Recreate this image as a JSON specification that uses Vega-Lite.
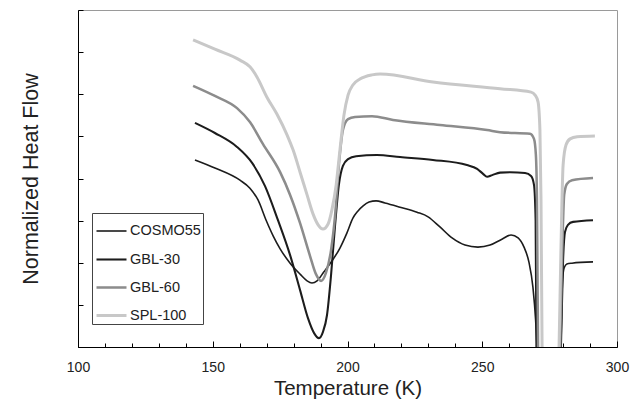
{
  "$schema": "https://vega.github.io/schema/vega-lite/v6.json",
  "autosize": {"type": "none"},
  "width": 539,
  "height": 337,
  "padding": {"left": 78, "top": 10, "right": 14, "bottom": 52},
  "background": "white",
  "config": {
    "view": {"stroke": "#9a9a9a", "strokeWidth": 1},
    "font": "Liberation Sans"
  },
  "data": {"values": [
    {"s": "COSMO55", "t": 143.4, "v": 4.44},
    {"s": "COSMO55", "t": 150.8, "v": 4.25},
    {"s": "COSMO55", "t": 160.1, "v": 3.96},
    {"s": "COSMO55", "t": 163.8, "v": 3.77},
    {"s": "COSMO55", "t": 166.8, "v": 3.49},
    {"s": "COSMO55", "t": 169.8, "v": 3.01},
    {"s": "COSMO55", "t": 172.4, "v": 2.64},
    {"s": "COSMO55", "t": 175.0, "v": 2.33},
    {"s": "COSMO55", "t": 178.7, "v": 1.99},
    {"s": "COSMO55", "t": 182.4, "v": 1.73},
    {"s": "COSMO55", "t": 185.0, "v": 1.57},
    {"s": "COSMO55", "t": 186.8, "v": 1.52},
    {"s": "COSMO55", "t": 188.7, "v": 1.57},
    {"s": "COSMO55", "t": 191.2, "v": 1.78},
    {"s": "COSMO55", "t": 194.2, "v": 2.04},
    {"s": "COSMO55", "t": 197.2, "v": 2.35},
    {"s": "COSMO55", "t": 199.8, "v": 2.71},
    {"s": "COSMO55", "t": 202.0, "v": 3.06},
    {"s": "COSMO55", "t": 203.9, "v": 3.23},
    {"s": "COSMO55", "t": 205.8, "v": 3.35},
    {"s": "COSMO55", "t": 208.0, "v": 3.44},
    {"s": "COSMO55", "t": 210.6, "v": 3.47},
    {"s": "COSMO55", "t": 213.9, "v": 3.42},
    {"s": "COSMO55", "t": 219.5, "v": 3.32},
    {"s": "COSMO55", "t": 225.8, "v": 3.20},
    {"s": "COSMO55", "t": 229.9, "v": 3.09},
    {"s": "COSMO55", "t": 234.3, "v": 2.85},
    {"s": "COSMO55", "t": 238.8, "v": 2.59},
    {"s": "COSMO55", "t": 243.6, "v": 2.42},
    {"s": "COSMO55", "t": 248.4, "v": 2.37},
    {"s": "COSMO55", "t": 252.9, "v": 2.42},
    {"s": "COSMO55", "t": 257.3, "v": 2.56},
    {"s": "COSMO55", "t": 260.7, "v": 2.66},
    {"s": "COSMO55", "t": 263.3, "v": 2.59},
    {"s": "COSMO55", "t": 265.5, "v": 2.37},
    {"s": "COSMO55", "t": 267.3, "v": 2.02},
    {"s": "COSMO55", "t": 268.8, "v": 1.42},
    {"s": "COSMO55", "t": 269.8, "v": 0.64},
    {"s": "COSMO55", "t": 270.3, "v": 0},
    {"s": "COSMO55", "t": 270.7, "v": -1},
    {"s": "COSMO55", "t": 278.8, "v": -1},
    {"s": "COSMO55", "t": 279.2, "v": 0},
    {"s": "COSMO55", "t": 279.8, "v": 1.59},
    {"s": "COSMO55", "t": 280.4, "v": 1.88},
    {"s": "COSMO55", "t": 281.4, "v": 1.97},
    {"s": "COSMO55", "t": 283.3, "v": 1.99},
    {"s": "COSMO55", "t": 291.1, "v": 2.02},

    {"s": "GBL-30", "t": 143.4, "v": 5.32},
    {"s": "GBL-30", "t": 150.8, "v": 5.08},
    {"s": "GBL-30", "t": 159.0, "v": 4.75},
    {"s": "GBL-30", "t": 164.6, "v": 4.37},
    {"s": "GBL-30", "t": 169.4, "v": 3.82},
    {"s": "GBL-30", "t": 174.2, "v": 3.01},
    {"s": "GBL-30", "t": 178.7, "v": 2.18},
    {"s": "GBL-30", "t": 182.4, "v": 1.35},
    {"s": "GBL-30", "t": 185.3, "v": 0.69},
    {"s": "GBL-30", "t": 187.6, "v": 0.33},
    {"s": "GBL-30", "t": 189.4, "v": 0.21},
    {"s": "GBL-30", "t": 190.9, "v": 0.36},
    {"s": "GBL-30", "t": 192.4, "v": 0.76},
    {"s": "GBL-30", "t": 193.9, "v": 1.71},
    {"s": "GBL-30", "t": 195.4, "v": 2.90},
    {"s": "GBL-30", "t": 196.8, "v": 3.85},
    {"s": "GBL-30", "t": 198.3, "v": 4.30},
    {"s": "GBL-30", "t": 200.2, "v": 4.46},
    {"s": "GBL-30", "t": 203.2, "v": 4.53},
    {"s": "GBL-30", "t": 210.9, "v": 4.56},
    {"s": "GBL-30", "t": 219.5, "v": 4.51},
    {"s": "GBL-30", "t": 231.7, "v": 4.44},
    {"s": "GBL-30", "t": 244.3, "v": 4.32},
    {"s": "GBL-30", "t": 248.1, "v": 4.23},
    {"s": "GBL-30", "t": 250.3, "v": 4.11},
    {"s": "GBL-30", "t": 251.8, "v": 4.04},
    {"s": "GBL-30", "t": 253.7, "v": 4.08},
    {"s": "GBL-30", "t": 256.6, "v": 4.14},
    {"s": "GBL-30", "t": 260.3, "v": 4.15},
    {"s": "GBL-30", "t": 265.9, "v": 4.13},
    {"s": "GBL-30", "t": 268.1, "v": 4.06},
    {"s": "GBL-30", "t": 269.2, "v": 3.85},
    {"s": "GBL-30", "t": 269.8, "v": 3.01},
    {"s": "GBL-30", "t": 270.1, "v": 0},
    {"s": "GBL-30", "t": 270.5, "v": -1},
    {"s": "GBL-30", "t": 278.8, "v": -1},
    {"s": "GBL-30", "t": 279.2, "v": 0},
    {"s": "GBL-30", "t": 280.0, "v": 2.07},
    {"s": "GBL-30", "t": 280.7, "v": 2.73},
    {"s": "GBL-30", "t": 281.8, "v": 2.90},
    {"s": "GBL-30", "t": 283.7, "v": 2.97},
    {"s": "GBL-30", "t": 291.1, "v": 3.01},

    {"s": "GBL-60", "t": 142.7, "v": 6.20},
    {"s": "GBL-60", "t": 150.8, "v": 5.96},
    {"s": "GBL-60", "t": 159.0, "v": 5.67},
    {"s": "GBL-60", "t": 163.8, "v": 5.34},
    {"s": "GBL-60", "t": 168.6, "v": 4.82},
    {"s": "GBL-60", "t": 175.0, "v": 4.15},
    {"s": "GBL-60", "t": 178.7, "v": 3.61},
    {"s": "GBL-60", "t": 182.4, "v": 2.94},
    {"s": "GBL-60", "t": 186.1, "v": 2.16},
    {"s": "GBL-60", "t": 188.3, "v": 1.73},
    {"s": "GBL-60", "t": 190.2, "v": 1.57},
    {"s": "GBL-60", "t": 192.0, "v": 1.76},
    {"s": "GBL-60", "t": 193.9, "v": 2.30},
    {"s": "GBL-60", "t": 195.4, "v": 3.13},
    {"s": "GBL-60", "t": 196.8, "v": 4.32},
    {"s": "GBL-60", "t": 198.3, "v": 5.15},
    {"s": "GBL-60", "t": 200.2, "v": 5.41},
    {"s": "GBL-60", "t": 202.8, "v": 5.46},
    {"s": "GBL-60", "t": 209.1, "v": 5.48},
    {"s": "GBL-60", "t": 216.9, "v": 5.39},
    {"s": "GBL-60", "t": 234.3, "v": 5.27},
    {"s": "GBL-60", "t": 251.8, "v": 5.15},
    {"s": "GBL-60", "t": 256.6, "v": 5.10},
    {"s": "GBL-60", "t": 267.7, "v": 5.06},
    {"s": "GBL-60", "t": 269.2, "v": 4.94},
    {"s": "GBL-60", "t": 269.9, "v": 4.56},
    {"s": "GBL-60", "t": 270.3, "v": 3.49},
    {"s": "GBL-60", "t": 270.7, "v": 0},
    {"s": "GBL-60", "t": 271.1, "v": -1},
    {"s": "GBL-60", "t": 278.5, "v": -1},
    {"s": "GBL-60", "t": 278.9, "v": 0},
    {"s": "GBL-60", "t": 279.6, "v": 2.07},
    {"s": "GBL-60", "t": 280.4, "v": 3.61},
    {"s": "GBL-60", "t": 281.4, "v": 3.87},
    {"s": "GBL-60", "t": 283.3, "v": 3.96},
    {"s": "GBL-60", "t": 291.1, "v": 4.01},

    {"s": "SPL-100", "t": 142.7, "v": 7.29},
    {"s": "SPL-100", "t": 150.8, "v": 7.07},
    {"s": "SPL-100", "t": 160.1, "v": 6.81},
    {"s": "SPL-100", "t": 163.8, "v": 6.65},
    {"s": "SPL-100", "t": 166.4, "v": 6.41},
    {"s": "SPL-100", "t": 170.1, "v": 5.93},
    {"s": "SPL-100", "t": 173.8, "v": 5.53},
    {"s": "SPL-100", "t": 177.6, "v": 5.03},
    {"s": "SPL-100", "t": 179.8, "v": 4.68},
    {"s": "SPL-100", "t": 182.4, "v": 4.15},
    {"s": "SPL-100", "t": 185.0, "v": 3.61},
    {"s": "SPL-100", "t": 187.2, "v": 3.16},
    {"s": "SPL-100", "t": 189.1, "v": 2.90},
    {"s": "SPL-100", "t": 190.9, "v": 2.80},
    {"s": "SPL-100", "t": 192.8, "v": 2.92},
    {"s": "SPL-100", "t": 194.2, "v": 3.25},
    {"s": "SPL-100", "t": 195.8, "v": 3.85},
    {"s": "SPL-100", "t": 197.2, "v": 4.68},
    {"s": "SPL-100", "t": 198.7, "v": 5.51},
    {"s": "SPL-100", "t": 200.2, "v": 5.98},
    {"s": "SPL-100", "t": 202.0, "v": 6.22},
    {"s": "SPL-100", "t": 204.6, "v": 6.36},
    {"s": "SPL-100", "t": 209.1, "v": 6.46},
    {"s": "SPL-100", "t": 212.1, "v": 6.48},
    {"s": "SPL-100", "t": 231.7, "v": 6.29},
    {"s": "SPL-100", "t": 256.6, "v": 6.13},
    {"s": "SPL-100", "t": 268.1, "v": 6.05},
    {"s": "SPL-100", "t": 269.6, "v": 5.98},
    {"s": "SPL-100", "t": 270.7, "v": 5.82},
    {"s": "SPL-100", "t": 271.4, "v": 5.15},
    {"s": "SPL-100", "t": 271.8, "v": 3.49},
    {"s": "SPL-100", "t": 272.2, "v": 0},
    {"s": "SPL-100", "t": 272.5, "v": -1},
    {"s": "SPL-100", "t": 278.1, "v": -1},
    {"s": "SPL-100", "t": 278.5, "v": 0},
    {"s": "SPL-100", "t": 279.2, "v": 2.30},
    {"s": "SPL-100", "t": 280.0, "v": 4.32},
    {"s": "SPL-100", "t": 281.1, "v": 4.80},
    {"s": "SPL-100", "t": 282.6, "v": 4.94},
    {"s": "SPL-100", "t": 285.2, "v": 4.99},
    {"s": "SPL-100", "t": 291.8, "v": 5.01}
  ]},
  "mark": {"type": "line", "interpolate": "monotone", "clip": true},
  "encoding": {
    "x": {
      "field": "t", "type": "quantitative",
      "scale": {"domain": [100, 300], "nice": false, "zero": false},
      "axis": {
        "title": "Temperature (K)",
        "values": [100,110,120,130,140,150,160,170,180,190,200,210,220,230,240,250,260,270,280,290,300],
        "labelExpr": "datum.value % 50 === 0 ? datum.label : ''",
        "labelFlush": false,
        "labelOverlap": false,
        "grid": false,
        "domainColor": "#000000",
        "tickColor": "#000000",
        "tickSize": {"condition": {"test": "datum.value % 50 === 0", "value": -6}, "value": -4},
        "labelPadding": 19,
        "labelFontSize": 14,
        "labelColor": "#222222",
        "labelFont": "Liberation Sans",
        "titleFont": "Liberation Sans",
        "titleFontSize": 20.5,
        "titleFontWeight": "normal",
        "titleColor": "#222222",
        "titleBaseline": "alphabetic",
        "titleY": 47
      }
    },
    "y": {
      "field": "v", "type": "quantitative",
      "scale": {"domain": [0, 8], "nice": false, "zero": false},
      "axis": {
        "title": "Normalized Heat Flow",
        "values": [0,1,2,3,4,5,6,7,8],
        "labels": false,
        "grid": false,
        "domainColor": "#000000",
        "tickColor": "#000000",
        "tickSize": -5,
        "titleFont": "Liberation Sans",
        "titleFontSize": 21.5,
        "titleFontWeight": "normal",
        "titleColor": "#222222",
        "titleBaseline": "alphabetic",
        "titleX": -41
      }
    },
    "color": {
      "field": "s", "type": "nominal",
      "scale": {"domain": ["COSMO55", "GBL-30", "GBL-60", "SPL-100"], "range": ["#1c1c1c", "#1c1c1c", "#8c8c8c", "#c8c8c8"]},
      "legend": {
        "title": null,
        "orient": "none",
        "legendX": 14,
        "legendY": 203,
        "symbolType": "stroke",
        "symbolSize": 900,
        "labelFont": "Liberation Sans",
        "labelFontSize": 14.5,
        "labelColor": "#222222",
        "strokeColor": "#444444",
        "padding": 2,
        "rowPadding": 5,
        "labelOffset": 2,
        "symbolOffset": 1
      }
    },
    "strokeWidth": {
      "field": "s", "type": "nominal",
      "scale": {"domain": ["COSMO55", "GBL-30", "GBL-60", "SPL-100"], "range": [1.6, 3, 4, 4]},
      "legend": {
        "title": null,
        "orient": "none",
        "legendX": 14,
        "legendY": 203,
        "symbolType": "stroke",
        "symbolSize": 900,
        "labelFont": "Liberation Sans",
        "labelFontSize": 14.5,
        "labelColor": "#222222",
        "strokeColor": "#444444",
        "padding": 2,
        "rowPadding": 5,
        "labelOffset": 2,
        "symbolOffset": 1
      }
    }
  }
}
